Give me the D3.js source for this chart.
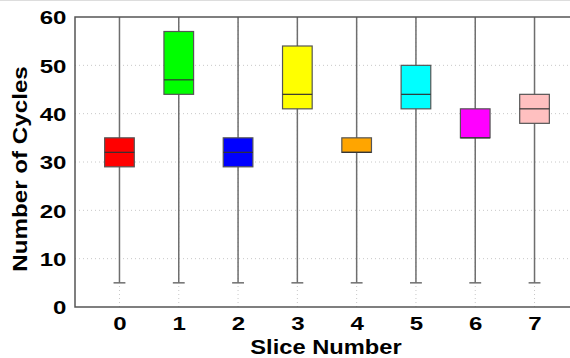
<!DOCTYPE html>
<html>
<head>
<meta charset="utf-8">
<script src="https://cdn.jsdelivr.net/npm/d3@7"></script>
<style>
  body { margin: 0; background: #fff; }
  text { font-family: "Liberation Sans", Arial, sans-serif; font-weight: bold; fill: #000; }
</style>
</head>
<body>
<svg id="chart" width="570" height="358"></svg>
<script>
// slice numbers and box stats
const slices = [0, 1, 2, 3, 4, 5, 6, 7];
const whiskerLow = [5, 5, 5, 5, 5, 5, 5, 5];
const whiskerHigh = [62, 62, 62, 62, 62, 62, 62, 62];
const q1 = [29, 44, 29, 41, 32, 41, 35, 38];
const median = [32, 47, 32, 44, 32, 44, 35, 41];
const q3 = [35, 57, 35, 54, 35, 50, 41, 44];
const colors = ["#ff0000", "#00ff00", "#0000ff", "#ffff00", "#ffa500", "#00ffff", "#ff00ff", "#ffc0c0"];
const yTicks = [0, 10, 20, 30, 40, 50, 60];

const svg = d3.select("#chart");
const margin = { left: 75, top: 17, bottom: 51 };
const plotRight = 579; // plot runs past the right edge of the picture
const height = 358;
const tickStretch = 1.3; // text in the picture is wider than it is tall
const labelStretch = 1.18;

const x = d3.scaleLinear().domain([-0.75, 7.75]).range([margin.left, plotRight]);
const y = d3.scaleLinear().domain([0, 60]).range([height - margin.bottom, margin.top]);

const boxW = x(0.5) - x(0);
const capW = x(0.2) - x(0);

// faint frame line at the very top
svg.append("line")
  .attr("x1", 0).attr("x2", 570).attr("y1", 0.5).attr("y2", 0.5)
  .attr("stroke", "#ddd");

const plot = svg.append("g");

plot.append("defs").append("clipPath").attr("id", "clip")
  .append("rect")
  .attr("x", margin.left).attr("y", margin.top)
  .attr("width", plotRight - margin.left).attr("height", y(0) - margin.top);

// dotted grid
plot.append("g")
  .selectAll("line")
  .data(yTicks.filter(d => d > 0 && d < 60))
  .join("line")
  .attr("x1", margin.left).attr("x2", plotRight)
  .attr("y1", d => y(d)).attr("y2", d => y(d))
  .attr("stroke", "#c8c8c8").attr("stroke-width", 1)
  .attr("stroke-dasharray", "1,3");

plot.append("g")
  .selectAll("line")
  .data(slices)
  .join("line")
  .attr("x1", d => x(d)).attr("x2", d => x(d))
  .attr("y1", y(0)).attr("y2", y(60))
  .attr("stroke", "#c8c8c8").attr("stroke-width", 1)
  .attr("stroke-dasharray", "1,3");

const boxes = plot.append("g").attr("clip-path", "url(#clip)")
  .selectAll("g")
  .data(slices)
  .join("g");

// whiskers
boxes.append("line")
  .attr("x1", d => x(d)).attr("x2", d => x(d))
  .attr("y1", (d, i) => y(whiskerLow[i])).attr("y2", (d, i) => y(whiskerHigh[i]))
  .attr("stroke", "#6e6e6e").attr("stroke-width", 1.5);

boxes.append("line")
  .attr("x1", d => x(d) - capW / 2).attr("x2", d => x(d) + capW / 2)
  .attr("y1", (d, i) => y(whiskerLow[i])).attr("y2", (d, i) => y(whiskerLow[i]))
  .attr("stroke", "#6e6e6e").attr("stroke-width", 1.5);

boxes.append("rect")
  .attr("x", d => x(d) - boxW / 2)
  .attr("width", boxW)
  .attr("y", (d, i) => y(q3[i]))
  .attr("height", (d, i) => y(q1[i]) - y(q3[i]))
  .attr("fill", (d, i) => colors[i])
  .attr("stroke", "#555").attr("stroke-width", 1.2);

boxes.append("line")
  .attr("x1", d => x(d) - boxW / 2).attr("x2", d => x(d) + boxW / 2)
  .attr("y1", (d, i) => y(median[i])).attr("y2", (d, i) => y(median[i]))
  .attr("stroke", "#333").attr("stroke-width", 1.2);

// frame
plot.append("path")
  .attr("d", `M${plotRight},${margin.top}H${margin.left}V${y(0)}H${plotRight}`)
  .attr("fill", "none").attr("stroke", "#555").attr("stroke-width", 1.5);

// axes (labels only)
svg.append("g")
  .attr("class", "yaxis")
  .attr("transform", `translate(${margin.left},0)`)
  .call(d3.axisLeft(y).tickValues(yTicks).tickSize(0));
svg.append("g")
  .attr("class", "xaxis")
  .attr("transform", `translate(0,${y(0)})`)
  .call(d3.axisBottom(x).tickValues(slices).tickSize(0));
svg.selectAll(".domain").remove();
svg.selectAll(".tick text")
  .attr("font-family", "Liberation Sans, Arial, sans-serif")
  .attr("font-weight", "bold")
  .attr("font-size", 18.5)
  .attr("fill", "#000")
  .attr("x", 0).attr("y", 0);
svg.selectAll(".yaxis .tick text")
  .attr("dy", "0.36em")
  .attr("transform", `translate(-8.5,0) scale(${tickStretch},1)`);
svg.selectAll(".xaxis .tick text")
  .attr("dy", 0)
  .attr("transform", `translate(0,23) scale(${tickStretch},1)`);

svg.append("text")
  .attr("transform", `translate(326,354) scale(${labelStretch * 0.98},1)`)
  .attr("text-anchor", "middle")
  .attr("font-size", 20.5)
  .text("Slice Number");

svg.append("text")
  .attr("transform", `translate(26.5,169) rotate(-90) scale(${labelStretch},1)`)
  .attr("text-anchor", "middle")
  .attr("font-size", 20.5)
  .text("Number of Cycles");
</script>
</body>
</html>
